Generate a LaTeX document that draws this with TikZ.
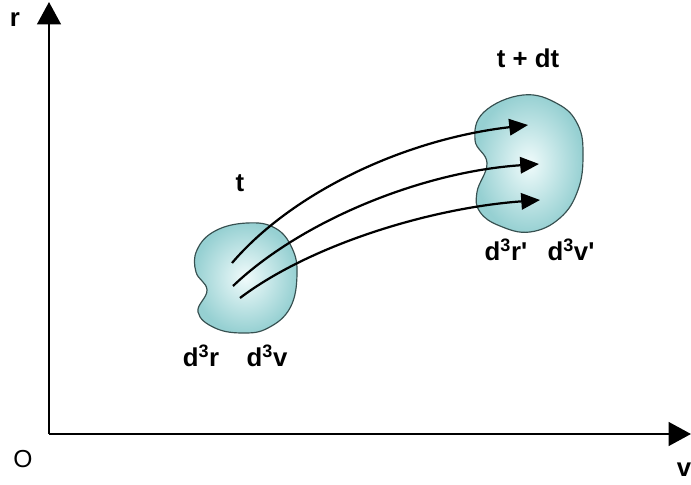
\documentclass[tikz,border=0pt]{standalone}
\usepackage{fontspec}
\setmainfont{Liberation Sans}
\newfontfamily\qfont{Liberation Sans}
\usetikzlibrary{arrows.meta}
\definecolor{blobout}{RGB}{150,208,210}
\definecolor{blobin}{RGB}{240,251,251}
\definecolor{blobedge}{RGB}{55,80,80}
\newcommand{\apos}{{\qfont\bfseries '}}
\begin{document}
\begin{tikzpicture}[x=0.03cm,y=-0.03cm,
  axis/.style={line width=2.4pt,-{Triangle[length=19pt,width=20pt]}},
  flow/.style={line width=1.9pt,-{Triangle[length=16pt,width=14pt]}},
  blob/.style={draw=blobedge,line width=1pt,inner color=blobin,outer color=blobout},
  lbl/.style={font=\fontsize{22}{26}\selectfont\bfseries,inner sep=0pt},
  plain/.style={font=\fontsize{21}{25}\selectfont,inner sep=0pt}]
\useasboundingbox (0,0) rectangle (691,485);
% axes
\coordinate (O) at (49,434);
\coordinate (rtip) at (49,2);
\coordinate (vtip) at (691,434);
\draw[axis] (O) -- (rtip);
\draw[axis] (O) -- (vtip);
\node[lbl] (rl) at (15,20) {r};
\node[plain] (ol) at (23,459) {O};
\node[lbl] (vl) at (684,470) {v};
% left blob
\path[blob] plot[smooth cycle,tension=0.7] coordinates {
 (247,223) (275,228) (292,248) (297,275) (290,308) (268,328) (243,333)
 (215,328) (198,312) (207,290) (196,272) (197,250) (215,231)};
% right blob
\path[blob] plot[smooth cycle,tension=0.7] coordinates {
 (523,95) (558,104) (578,125) (583,155) (578,190) (560,218) (530,232)
 (500,226) (480,212) (477,192) (487,163) (475,140) (484,112)};
\node[lbl] (t1) at (240,183) {t};
\node[lbl] (t2) at (528,58) {t + dt};
\node[lbl] (d1) at (201,356) {d\textsuperscript{3}r};
\node[lbl] (d2) at (267,356) {d\textsuperscript{3}v};
\node[lbl] (d3) at (506,250) {d\textsuperscript{3}r\apos};
\node[lbl] (d4) at (571,250) {d\textsuperscript{3}v\apos};
% flow lines
\coordinate (a1) at (232,263);
\coordinate (a2) at (233,286);
\coordinate (a3) at (240,298);
\coordinate (b1) at (528,125);
\coordinate (b2) at (539,164);
\coordinate (b3) at (540,200);
\draw[flow] (a1) .. controls (290,195) and (400,140) .. (b1);
\draw[flow] (a2) .. controls (300,222) and (420,172) .. (b2);
\draw[flow] (a3) .. controls (310,245) and (430,208) .. (b3);
\end{tikzpicture}
\end{document}
